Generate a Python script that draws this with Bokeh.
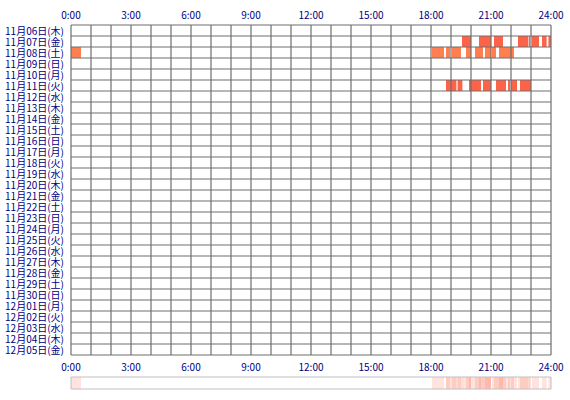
from bokeh.plotting import figure
from bokeh.models import Range1d, ColumnDataSource
from bokeh.core.properties import value
from bokeh.embed import file_html
from bokeh.resources import INLINE

# One row per day, hours 0-24 across
day_labels = [
    "11月06日(木)", "11月07日(金)", "11月08日(土)", "11月09日(日)", "11月10日(月)",
    "11月11日(火)", "11月12日(水)", "11月13日(木)", "11月14日(金)", "11月15日(土)",
    "11月16日(日)", "11月17日(月)", "11月18日(火)", "11月19日(水)", "11月20日(木)",
    "11月21日(金)", "11月22日(土)", "11月23日(日)", "11月24日(月)", "11月25日(火)",
    "11月26日(水)", "11月27日(木)", "11月28日(金)", "11月29日(土)", "11月30日(日)",
    "12月01日(月)", "12月02日(火)", "12月03日(水)", "12月04日(木)", "12月05日(金)",
]
hour_ticks = [0, 3, 6, 9, 12, 15, 18, 21, 24]
hour_labels = ["0:00", "3:00", "6:00", "9:00", "12:00", "15:00", "18:00", "21:00", "24:00"]

# Active periods: row index, start hour, end hour
seg_day = [1, 1, 1, 1, 1, 1, 1, 1,
           2, 2, 2, 2, 2, 2, 2, 2, 2,
           5, 5, 5, 5, 5, 5, 5, 5]
seg_start = [19.55, 20.40, 21.15, 22.35, 22.88, 23.05, 23.55, 23.87,
             0.00, 18.05, 18.75, 19.05, 19.75, 20.20, 20.70, 21.05, 21.40,
             18.75, 19.33, 19.90, 20.60, 21.25, 21.85, 22.00, 22.45]
seg_end = [20.00, 21.00, 21.60, 22.85, 22.95, 23.40, 23.78, 24.00,
           0.50, 18.65, 18.95, 19.50, 20.00, 20.60, 21.00, 21.25, 22.15,
           19.27, 19.57, 20.50, 21.00, 21.75, 21.95, 22.30, 23.00]
row_color = {1: "#FF6347", 2: "#FF7F50", 5: "#FF6347"}

n_days = len(day_labels)
PX_H = 20.0   # pixels per hour
PX_R = 11.0   # pixels per day row
LEFT = 70.5   # pixel of hour 0 (half pixel keeps 1px lines crisp)
TOP = 24.5    # pixel of the first row boundary

p = figure(width=570, height=400, output_backend="svg", toolbar_location=None,
           x_range=Range1d(-LEFT / PX_H, (570 - LEFT) / PX_H),
           y_range=Range1d((400 - TOP) / PX_R, -TOP / PX_R),
           x_axis_type=None, y_axis_type=None,
           min_border=0, min_border_left=0, min_border_right=0,
           min_border_top=0, min_border_bottom=0)
p.grid.visible = False
p.outline_line_color = None
p.background_fill_color = "white"
p.border_fill_color = "white"

# day bars
bars = ColumnDataSource(dict(
    left=seg_start, right=seg_end,
    top=[d for d in seg_day], bottom=[d + 1 for d in seg_day],
    color=[row_color[d] for d in seg_day],
))
p.quad(left="left", right="right", top="top", bottom="bottom",
       fill_color="color", line_color=None, source=bars)

# grid
hours = list(range(25))
p.segment(x0=hours, y0=[0] * 25, x1=hours, y1=[n_days] * 25,
          line_color="#6E6E6E", line_width=1.2)
rows = list(range(n_days + 1))
p.segment(x0=[0] * len(rows), y0=rows, x1=[24] * len(rows), y1=rows,
          line_color="#6E6E6E", line_width=1.2)

# summary strip below: all days stacked translucently
strip_top = (376.5 - TOP) / PX_R
strip_bot = (388.5 - TOP) / PX_R
p.quad(left=seg_start, right=seg_end,
       top=[strip_top] * len(seg_start), bottom=[strip_bot] * len(seg_start),
       fill_color="#FF6347", fill_alpha=0.18, line_color=None)
p.quad(left=[0], right=[24], top=[strip_top], bottom=[strip_bot],
       fill_color=None, line_color="#C0C0C0", line_width=1)

font = value("Noto Sans CJK JP")
p.text(x=[-7 / PX_H] * n_days, y=[i + 0.5 for i in range(n_days)], text=day_labels,
       text_align="right", text_baseline="middle", text_font=font,
       text_font_size="10px", text_color="#000080")
p.text(x=hour_ticks, y=[(14 - TOP) / PX_R] * len(hour_ticks), text=hour_labels,
       text_align="center", text_baseline="middle", text_font=font,
       text_font_size="10px", text_color="#000080")
p.text(x=hour_ticks, y=[(366 - TOP) / PX_R] * len(hour_ticks), text=hour_labels,
       text_align="center", text_baseline="middle", text_font=font,
       text_font_size="10px", text_color="#000080")

open("out.html", "w").write(file_html(p, INLINE))
